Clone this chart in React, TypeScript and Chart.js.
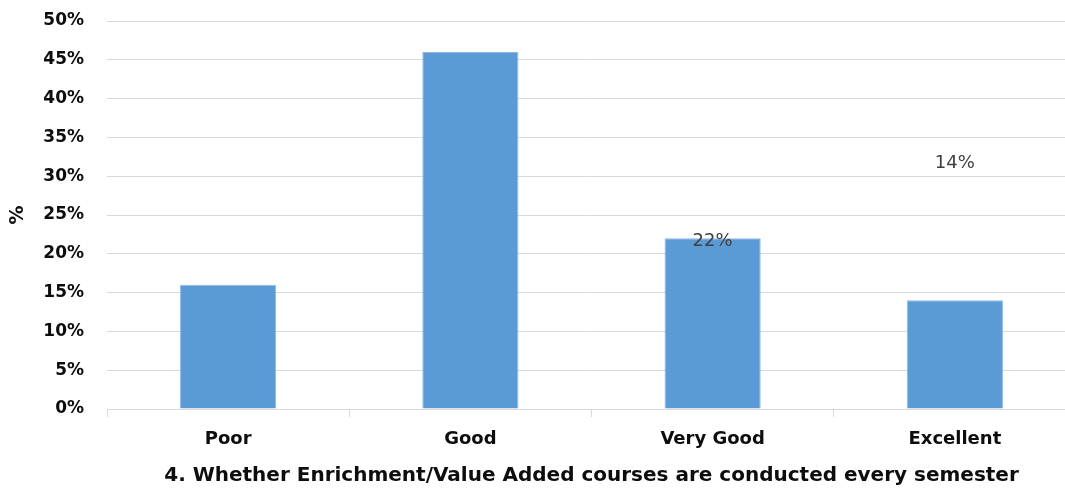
import React, { useEffect, useRef } from "react";
import { Chart, registerables } from "chart.js";

Chart.register(...registerables);

const categories = ["Poor", "Good", "Very Good", "Excellent"];
const percentValues = [16, 46, 22, 14];
const dataLabelTexts = ["", "", "22%", "14%"];
// value (in %) on the y scale where each stray data label sits in the original
const dataLabelAt = [null, null, 21.6, 31.7];
const yMax = 50;
const yStep = 5;
const xTitle = "4. Whether Enrichment/Value Added courses are conducted every semester";
const yTitle = "%";

const FONT = "'DejaVu Sans', sans-serif";

const labelPlugin = {
  id: "strayLabels",
  afterDatasetsDraw(chart: any) {
    const ctx = chart.ctx;
    const meta = chart.getDatasetMeta(0);
    const yScale = chart.scales.y;
    ctx.save();
    ctx.font = `400 18px ${FONT}`;
    ctx.fillStyle = "#404040";
    ctx.textAlign = "center";
    ctx.textBaseline = "middle";
    dataLabelTexts.forEach((t, i) => {
      const at = dataLabelAt[i];
      if (!t || at == null) return;
      const x = meta.data[i].x;
      const y = yScale.getPixelForValue(at);
      ctx.fillText(t, x, y);
    });
    ctx.restore();
  },
};

export default function App() {
  const ref = useRef<HTMLCanvasElement | null>(null);
  useEffect(() => {
    if (!ref.current) return;
    const chart = new Chart(ref.current, {
      type: "bar",
      data: {
        labels: categories,
        datasets: [
          {
            data: percentValues,
            backgroundColor: "#5b9bd5",
            borderColor: "#8db8e3",
            borderWidth: 1,
            categoryPercentage: 1,
            barPercentage: 0.397,
          },
        ],
      },
      options: {
        animation: false,
        responsive: false,
        devicePixelRatio: 1,
        layout: { padding: { left: 0, right: 4, top: 21, bottom: 4 } },
        plugins: { legend: { display: false }, tooltip: { enabled: false } },
        scales: {
          x: {
            afterFit: (s: any) => {
              s.height = 79;
            },
            grid: {
              offset: true,
              drawOnChartArea: false,
              drawTicks: true,
              tickLength: 8,
              color: "#d9d9d9",
            },
            border: { display: true, color: "#d9d9d9" },
            ticks: {
              padding: 12,
              color: "#0d0d0d",
              font: { family: FONT, size: 18, weight: "bold" },
            },
            title: {
              display: true,
              text: xTitle,
              color: "#0d0d0d",
              font: { family: FONT, size: 20, weight: "bold" },
              padding: { top: 0, bottom: 0 },
            },
          },
          y: {
            min: 0,
            max: yMax,
            afterFit: (s: any) => {
              s.width = 107;
            },
            grid: { color: "#d9d9d9", drawTicks: true, tickLength: 20, tickColor: "rgba(0,0,0,0)" },
            border: { display: false },
            ticks: {
              stepSize: yStep,
              padding: 3,
              color: "#0d0d0d",
              font: { family: FONT, size: 17, weight: "bold" },
              callback: (v: any) => `${v}%`,
            },
            title: {
              display: true,
              text: yTitle,
              color: "#0d0d0d",
              font: { family: FONT, size: 19, weight: "bold" },
              padding: { top: 7, bottom: 0 },
            },
          },
        },
      },
      plugins: [labelPlugin],
    });
    return () => chart.destroy();
  }, []);
  return (
    <div
      style={{
        position: "fixed",
        left: 0,
        top: 0,
        width: 1065,
        height: 492,
        overflow: "hidden",
        background: "#fff",
      }}
    >
      <canvas ref={ref} width={1080} height={492} style={{ width: 1080, height: 492, display: "block" }} />
    </div>
  );
}
